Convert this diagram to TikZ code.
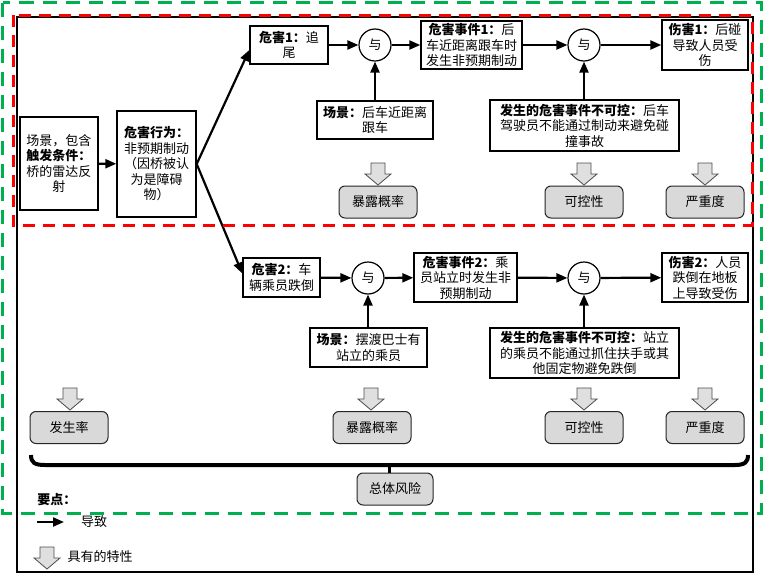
\documentclass[tikz,border=0pt]{standalone}
\usepackage{fontspec}
\setmainfont{Noto Sans CJK SC}
\usetikzlibrary{arrows.meta}
\definecolor{dgreen}{RGB}{0,176,80}
\begin{document}
\begin{tikzpicture}[x=1pt,y=-1pt,font=\fontsize{13}{15.5}\selectfont,
  box/.style={draw,line width=1.4pt,align=center,inner sep=1pt},
  andc/.style={circle,draw,line width=1.2pt,minimum size=32pt,inner sep=0pt},
  gbox/.style={draw=black!85,line width=1pt,fill=gray!30,rounded corners=6pt,minimum width=78pt,minimum height=32pt,inner sep=1pt},
  arr/.style={-{Triangle[length=11pt,width=9pt]},line width=2.2pt},
  garrow/.pic={\draw[draw=gray!60!black,fill=gray!25,line width=0.8pt] (-7,0)--(7,0)--(7,11)--(13,11)--(0,22)--(-13,11)--(-7,11)--cycle;}]
\useasboundingbox (0,0) rectangle (764,573);
\draw[line width=1.4pt] (17,17) rectangle (753,572);
% row 1
\node[box,minimum width=78pt,minimum height=93pt] (scen0) at (59,163.5) {场景，包含\\\textbf{触发条件：}\\桥的雷达反\\射};
\node[box,minimum width=79pt,minimum height=106pt] (behav) at (156.5,164) {\textbf{危害行为：}\\非预期制动\\（因桥被认\\为是障碍\\物）};
\node[box,minimum width=78pt,minimum height=38pt] (haz1) at (289,45) {\textbf{危害1：}追\\尾};
\node[andc] (and1) at (375,45) {与};
\node[box,minimum width=101pt,minimum height=48pt] (ev1) at (471.5,45) {\textbf{危害事件1：}后\\车近距离跟车时\\发生非预期制动};
\node[box,minimum width=116pt,minimum height=38pt] (sc1) at (375,120) {\textbf{场景：}后车近距离\\跟车};
\node[andc] (and2) at (584,45) {与};
\node[box,minimum width=86pt,minimum height=50pt] (harm1) at (705,45) {\textbf{伤害1：}后碰\\导致人员受\\伤};
\node[box,minimum width=189pt,minimum height=51pt] (unc1) at (584.5,125.5) {\textbf{发生的危害事件不可控：}后车\\驾驶员不能通过制动来避免碰\\撞事故};
\pic at (378,163) {garrow};
\pic at (584,163) {garrow};
\pic at (705,163) {garrow};
\node[gbox] (exp1) at (378,202) {暴露概率};
\node[gbox] (ctl1) at (584,202) {可控性};
\node[gbox] (sev1) at (705,202) {严重度};
% row 2
\node[box,minimum width=77pt,minimum height=39pt] (haz2) at (281.5,277.5) {\textbf{危害2：}车\\辆乘员跌倒};
\node[andc] (and3) at (368,278) {与};
\node[box,minimum width=103pt,minimum height=49pt] (ev2) at (465.5,277.5) {\textbf{危害事件2：}乘\\员站立时发生非\\预期制动};
\node[box,minimum width=117pt,minimum height=39pt] (sc2) at (368.5,347.5) {\textbf{场景：}摆渡巴士有\\站立的乘员};
\node[andc] (and4) at (584,278) {与};
\node[box,minimum width=86pt,minimum height=49pt] (harm2) at (705,277.5) {\textbf{伤害2：}人员\\跌倒在地板\\上导致受伤};
\node[box,minimum width=189pt,minimum height=50pt] (unc2) at (584.5,353) {\textbf{发生的危害事件不可控：}站立\\的乘员不能通过抓住扶手或其\\他固定物避免跌倒};
% row 3
\pic at (70,388) {garrow};
\pic at (371,388) {garrow};
\pic at (584,388) {garrow};
\pic at (705,388) {garrow};
\node[gbox] (occ) at (69,427.5) {发生率};
\node[gbox] (exp2) at (372,427.5) {暴露概率};
\node[gbox] (ctl2) at (584,427.5) {可控性};
\node[gbox] (sev2) at (705,427.5) {严重度};
\node[gbox,minimum width=76pt] (total) at (395,489) {总体风险};
% connectors
\draw[arr] (scen0) -- (behav);
\draw[arr] (behav.east) -- ([yshift=-5pt]haz1.west);
\draw[arr] (behav.east) -- ([yshift=4pt]haz2.west);
\draw[arr] (haz1) -- (and1);
\draw[arr] (sc1) -- (and1);
\draw[arr] (and1) -- (ev1);
\draw[arr] (ev1) -- (and2);
\draw[arr] (unc1.north -| and2) -- (and2.south);
\draw[arr] (and2) -- (harm1);
\draw[arr] (haz2) -- (and3);
\draw[arr] (sc2.north -| and3) -- (and3.south);
\draw[arr] (and3) -- (ev2);
\draw[arr] (ev2) -- (and4);
\draw[arr] (unc2.north -| and4) -- (and4.south);
\draw[arr] (and4) -- (harm2);
% brace
\draw[line width=4pt] (31,455) .. controls (31,463) and (35,465) .. (45,465) -- (735,465) .. controls (745,465) and (748,462) .. (748,455);
\coordinate (bc) at (389,465);
\draw[line width=3pt] (bc) -- (bc |- total.north);
% legend
\node[font=\fontsize{13}{15.5}\selectfont\bfseries] (kp) at (57,500) {要点：};
\coordinate (la1) at (37,522);
\coordinate (la2) at (64,522);
\draw[arr] (la1) -- (la2);
\node (lt1) at (94,522) {导致};
\pic at (47,547) {garrow};
\node (lt2) at (100,557) {具有的特性};
% dashed frames
\draw[red,line width=3pt,dash pattern=on 12pt off 8pt] (13,15) rectangle (752,225);
\draw[dgreen,line width=3pt,dash pattern=on 14pt off 9pt] (2.5,2.5) rectangle (761,513);
\end{tikzpicture}
\end{document}
